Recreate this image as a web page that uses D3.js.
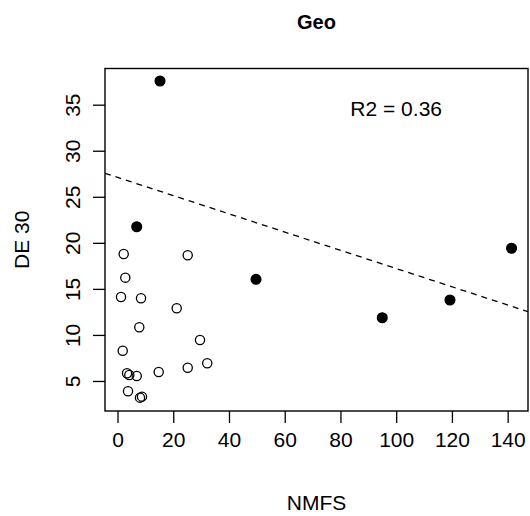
<!DOCTYPE html>
<html>
<head>
<meta charset="utf-8">
<script src="https://cdn.jsdelivr.net/npm/d3@7"></script>
<style>
html,body{margin:0;padding:0;background:#fff;}
svg{display:block;}
text{font-family:"Liberation Sans",Arial,Helvetica,sans-serif;fill:#000;}
</style>
</head>
<body>
<svg id="chart" width="530" height="516"></svg>
<script>
// ---- data ----
const title = "Geo";
const xLabel = "NMFS";
const yLabel = "DE 30";
const annotation = "R2 = 0.36";
const annotationPos = [100, 34.6];

// open circles
const openX = [2.22, 25.19, 2.80, 1.26, 8.43, 21.24, 7.82, 29.6, 1.87, 32.2, 25.19, 14.78, 3.41, 4.23, 6.89, 3.77, 8.07, 8.79];
const openY = [18.79, 18.65, 16.22, 14.12, 13.98, 12.89, 10.83, 9.45, 8.29, 6.92, 6.44, 5.98, 5.84, 5.65, 5.54, 3.88, 3.19, 3.30];

// filled circles
const filledX = [15.25, 6.89, 49.7, 95.0, 119.3, 141.4];
const filledY = [37.57, 21.75, 16.04, 11.87, 13.79, 19.41];

// fitted line (intercept, slope)
const lineIntercept = 27.11;
const lineSlope = -0.099;

const xTicks = [0, 20, 40, 60, 80, 100, 120, 140];
const yTicks = [5, 10, 15, 20, 25, 30, 35];

// ---- layout ----
const plot = {left: 105, right: 528, top: 68.5, bottom: 411};
const svg = d3.select("#chart");

const x = d3.scaleLinear().domain([-4.49, 147.3]).range([plot.left, plot.right]);
const y = d3.scaleLinear().domain([1.74, 38.93]).range([plot.bottom, plot.top]);

const fontSize = 21;

// clip
svg.append("clipPath").attr("id", "clip")
  .append("rect").attr("x", plot.left).attr("y", plot.top)
  .attr("width", plot.right - plot.left).attr("height", plot.bottom - plot.top);

// x axis
const xAxis = d3.axisBottom(x).tickValues(xTicks).tickSize(12).tickPadding(9).tickFormat(d3.format("d"));
const gx = svg.append("g").attr("transform", `translate(0,${plot.bottom})`).call(xAxis);
gx.select(".domain").attr("stroke", "none");
gx.selectAll(".tick line").attr("stroke", "#000").attr("stroke-width", 1.3);
gx.selectAll(".tick text").attr("font-size", fontSize).attr("font-family", "Liberation Sans, Arial, sans-serif").attr("fill", "#000");

// y axis
const yAxis = d3.axisLeft(y).tickValues(yTicks).tickSize(12).tickPadding(0).tickFormat(d3.format("d"));
const gy = svg.append("g").attr("transform", `translate(${plot.left},0)`).call(yAxis);
gy.select(".domain").attr("stroke", "none");
gy.selectAll(".tick line").attr("stroke", "#000").attr("stroke-width", 1.3);
gy.selectAll(".tick text")
  .attr("font-size", fontSize).attr("font-family", "Liberation Sans, Arial, sans-serif").attr("fill", "#000")
  .attr("x", null).attr("dy", null)
  .attr("text-anchor", "middle")
  .attr("transform", "translate(-25,0) rotate(-90)");

// box
svg.append("rect")
  .attr("x", plot.left).attr("y", plot.top)
  .attr("width", plot.right - plot.left).attr("height", plot.bottom - plot.top)
  .attr("fill", "none").attr("stroke", "#000").attr("stroke-width", 1.4);

// regression line
const xd = x.domain();
svg.append("line")
  .attr("clip-path", "url(#clip)")
  .attr("x1", x(xd[0])).attr("y1", y(lineIntercept + lineSlope * xd[0]))
  .attr("x2", x(xd[1])).attr("y2", y(lineIntercept + lineSlope * xd[1]))
  .attr("stroke", "#000").attr("stroke-width", 1.3).attr("stroke-dasharray", "6,5");

// open points
svg.append("g").selectAll("circle").data(openX.map((v, i) => [v, openY[i]]))
  .join("circle")
  .attr("cx", d => x(d[0])).attr("cy", d => y(d[1])).attr("r", 4.6)
  .attr("fill", "none").attr("stroke", "#000").attr("stroke-width", 1.3);

// filled points
svg.append("g").selectAll("circle").data(filledX.map((v, i) => [v, filledY[i]]))
  .join("circle")
  .attr("cx", d => x(d[0])).attr("cy", d => y(d[1])).attr("r", 4.9)
  .attr("fill", "#000").attr("stroke", "#000").attr("stroke-width", 1.3);

// annotation
svg.append("text")
  .attr("x", x(annotationPos[0])).attr("y", y(annotationPos[1]))
  .attr("dy", "0.35em").attr("text-anchor", "middle").attr("font-size", fontSize)
  .text(annotation);

// title
svg.append("text")
  .attr("x", (plot.left + plot.right) / 2).attr("y", 29)
  .attr("text-anchor", "middle").attr("font-size", 20).attr("font-weight", "bold")
  .text(title);

// x label
svg.append("text")
  .attr("x", (plot.left + plot.right) / 2).attr("y", 510)
  .attr("text-anchor", "middle").attr("font-size", fontSize)
  .text(xLabel);

// y label
svg.append("text")
  .attr("transform", `translate(28.5,${(plot.top + plot.bottom) / 2}) rotate(-90)`)
  .attr("text-anchor", "middle").attr("font-size", fontSize)
  .text(yLabel);
</script>
</body>
</html>
